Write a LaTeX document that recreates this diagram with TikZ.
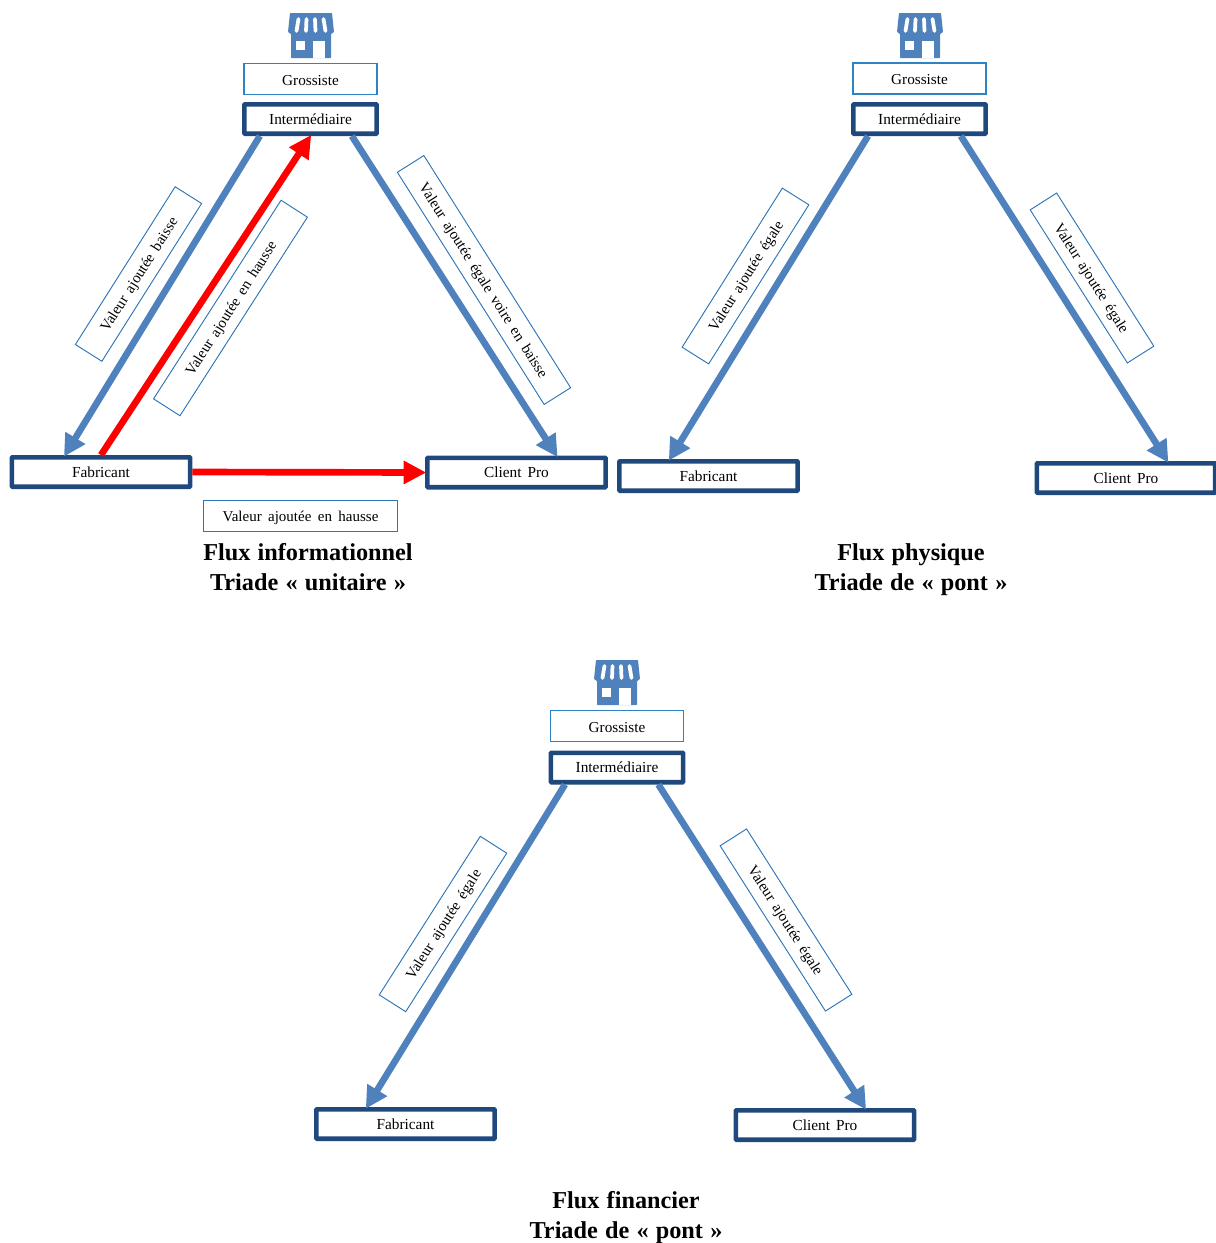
\documentclass[tikz,border=0pt]{standalone}
\usepackage{fontspec}
\setmainfont{Liberation Serif}
\usetikzlibrary{arrows.meta}
\definecolor{flowblue}{HTML}{4F81BD}
\definecolor{framenavy}{HTML}{1F497D}
\definecolor{roleblue}{HTML}{2E83C4}
\definecolor{labelblue}{HTML}{2E75B6}
\tikzset{
    actorbox/.style={shape=rectangle,draw=framenavy,fill=white,line width=3.5pt,rounded corners=.6pt,inner sep=0pt,minimum height=22pt,text height=8pt,text depth=0pt,font=\fontsize{11.5}{13}\selectfont,execute at begin node={\spaceskip=4.4pt\relax}},
    rolebox/.style={shape=rectangle,draw=roleblue,fill=white,line width=1.1pt,inner sep=0pt,minimum width=100pt,minimum height=23pt,text height=9pt,text depth=0pt,font=\fontsize{11.4}{13}\selectfont},
    notebox/.style={shape=rectangle,draw=labelblue,fill=white,line width=.7pt,inner sep=0pt,minimum height=23.5pt,text height=8pt,text depth=0pt,font=\fontsize{11.25}{13}\selectfont,execute at begin node={\spaceskip=4.8pt\relax}},
    titletext/.style={align=center,inner sep=0pt,font=\bfseries\fontsize{18.2}{22.5}\selectfont,execute at begin node={\spaceskip=5.4pt\relax}},
    blueflow/.style={draw=flowblue,line width=5pt,shorten >=-1.5pt,-{Triangle[length=16.5pt,width=16.5pt]}},
    redflow/.style={draw=red,line width=5pt,shorten >=-1pt,-{Triangle[length=17pt,width=16.5pt]}},
    shop/.pic={
        \fill[flowblue,rounded corners=.5pt] (-21,-22) -- (21,-22) -- (23,-3) -- (20,-1) -- (20,23) -- (-20,23) -- (-20,-1) -- (-23,-3) -- cycle;
        \fill[white] (-15,6) rectangle (-6,15);
        \fill[white] (2,6) rectangle (14,23);
        \draw[white,line width=2.8pt,line cap=round] (-12.5,-16) -- (-14.5,-4);
        \draw[white,line width=2.8pt,line cap=round] (-4.5,-16) -- (-5,-4);
        \draw[white,line width=2.8pt,line cap=round] (4,-16) -- (4.5,-4);
        \draw[white,line width=2.8pt,line cap=round] (12.5,-16) -- (14.5,-4);
    }
}
\begin{document}
\begin{tikzpicture}[x=.75pt,y=-.75pt]
    \useasboundingbox (0,0) rectangle (1216,1243);

    % triade unitaire
    \pic at (311,35) {shop};
    \node[rolebox] (gros1) at (310.5,79) {Grossiste};
    \node[actorbox,minimum width=99.2pt] (inter1) at (310.5,119) {Intermédiaire};
    \node[actorbox,minimum width=133.7pt] (fab1) at (101,472) {Fabricant};
    \node[actorbox,minimum width=133.7pt] (client1) at (516.5,472.5) {Client Pro};

    \path ([xshift=-38pt]inter1.south) edge[blueflow] ([xshift=-27pt]fab1.north);
    \path ([xshift=31pt]inter1.south) edge[blueflow] ([xshift=30pt]client1.north);
    \path (fab1.north) edge[redflow] (inter1.south);
    \path (fab1.east) edge[redflow] (client1.west);

    \node[notebox,rotate=57.7,minimum width=140pt] (note1a) at (138.5,274) {Valeur ajoutée baisse};
    \node[notebox,rotate=57.3,minimum width=177pt] (note1b) at (230.5,308) {Valeur ajoutée en hausse};
    \node[notebox,rotate=-57.7,minimum width=206pt] (note1c) at (484,280) {Valeur ajoutée égale voire en baisse};
    \node[notebox,minimum width=146pt] (note1d) at (300.5,516) {Valeur ajoutée en hausse};
    \node[titletext] (title1) at (308,567) {Flux informationnel\\Triade « unitaire »};

    % triade de pont, flux physique
    \pic at (920,35) {shop};
    \node[rolebox] (gros2) at (919.5,78.5) {Grossiste};
    \node[actorbox,minimum width=99.2pt] (inter2) at (919.5,119) {Intermédiaire};
    \node[actorbox,minimum width=133.7pt] (fab2) at (708.5,476) {Fabricant};
    \node[actorbox,minimum width=133.7pt] (client2) at (1126,478) {Client Pro};

    \path ([xshift=-38.6pt]inter2.south) edge[blueflow] ([xshift=-29pt]fab2.north);
    \path ([xshift=31pt]inter2.south) edge[blueflow] ([xshift=31pt]client2.north);

    \node[notebox,rotate=57.8,minimum width=141pt] (note2a) at (745.5,276) {Valeur ajoutée égale};
    \node[notebox,rotate=-57.6,minimum width=136pt] (note2b) at (1092,278) {Valeur ajoutée égale};
    \node[titletext] (title2) at (911,569.5) {Flux physique\\Triade de « pont »};

    % triade de pont, flux financier
    \pic at (617,682) {shop};
    \node[rolebox] (gros3) at (617,726) {Grossiste};
    \node[actorbox,minimum width=99.2pt] (inter3) at (617,767.5) {Intermédiaire};
    \node[actorbox,minimum width=133.7pt] (fab3) at (405.5,1124) {Fabricant};
    \node[actorbox,minimum width=133.7pt] (client3) at (825,1125) {Client Pro};

    \path ([xshift=-39pt]inter3.south) edge[blueflow] ([xshift=-29pt]fab3.north);
    \path ([xshift=31pt]inter3.south) edge[blueflow] ([xshift=30pt]client3.north);

    \node[notebox,rotate=57.5,minimum width=141pt] (note3a) at (443,924) {Valeur ajoutée égale};
    \node[notebox,rotate=-57.5,minimum width=147pt] (note3b) at (786,920) {Valeur ajoutée égale};
    \node[titletext] (title3) at (626,1217.5) {Flux financier\\Triade de « pont »};
\end{tikzpicture}
\end{document}
